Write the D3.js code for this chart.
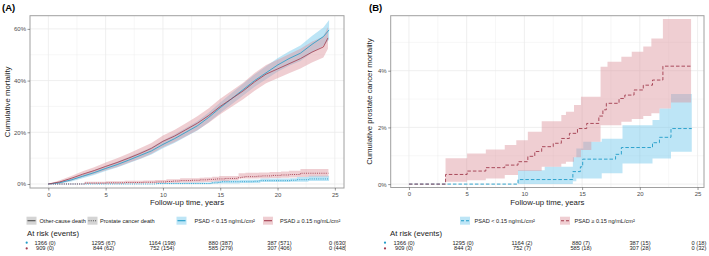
<!DOCTYPE html>
<html><head><meta charset="utf-8">
<script src="https://cdn.jsdelivr.net/npm/d3@7"></script>
<style>
html,body{margin:0;padding:0;background:#fff;}
svg{display:block;font-family:"Liberation Sans",Arial,sans-serif;}
</style></head>
<body>
<script>
// ---------- DATA ----------
const xTicks = [0, 5, 10, 15, 20, 25];
const yTicksA = [0, 20, 40, 60];
const yTicksB = [0, 2, 4];
const groupLabels = ["PSAD < 0.15 ng/mL/cm²", "PSAD ≥ 0.15 ng/mL/cm²"];
const outcomeLabels = ["Other-cause death", "Prostate cancer death"];

// Other-cause death cumulative incidence: [time, estimate, lower, upper] (%)
const ocdLow = [
  [0,0,0,0],[1,0.5,0.2,0.9],[2,1.6,1.0,2.2],[3,3.0,2.2,3.8],[4,4.4,3.5,5.3],[5,6.0,5.0,7.0],
  [6,7.5,6.4,8.6],[7,9.2,8.0,10.4],[8,11.0,9.7,12.3],[9,12.8,11.4,14.2],[10,15.3,13.8,16.8],
  [11,17.5,15.9,19.1],[12,20.0,18.3,21.7],[13,22.5,20.7,24.3],[14,25.8,23.9,27.7],[15,29.5,27.5,31.5],
  [16,33.0,30.8,35.2],[17,36.5,34.2,38.8],[18,40.0,37.6,42.4],[19,43.0,40.5,45.5],[20,46.0,43.4,48.6],
  [21,48.5,45.7,51.3],[22,50.6,47.6,53.6],[23,54.0,50.8,57.2],[24,57.0,53.5,60.5],[24.5,59.6,55.8,63.4]
];
const ocdHigh = [
  [0,0,0,0],[1,0.8,0.3,1.4],[2,2.2,1.3,3.1],[3,3.8,2.7,4.9],[4,5.2,3.9,6.5],[5,6.8,5.3,8.3],
  [6,8.3,6.6,10.0],[7,10.0,8.2,11.8],[8,11.8,9.8,13.8],[9,13.8,11.7,15.9],[10,16.5,14.2,18.8],
  [11,18.5,16.1,20.9],[12,21.0,18.5,23.5],[13,23.5,20.8,26.2],[14,26.5,23.7,29.3],[15,30.0,27.0,33.0],
  [16,33.0,29.9,36.1],[17,36.0,32.8,39.2],[18,39.5,36.1,42.9],[19,42.5,39.0,46.0],[20,44.5,40.9,48.1],
  [21,46.5,42.8,50.2],[22,48.5,44.7,52.3],[23,51.0,47.0,55.0],[24,53.0,48.9,57.1],[24.4,56.5,52.3,60.7]
];

// Prostate cancer death cumulative incidence step curves: [time, estimate] (%)
const pcdLow = [[0,0],[9.45,0.16],[14.2,0.44],[14.85,0.61],[15.05,0.88],[17.9,1.05],[18.4,1.29],
  [21.1,1.46],[21.7,1.65],[22.7,1.96],[24.5,1.96]];
const pcdHigh = [[0,0],[3.17,0.34],[5.04,0.46],[6.66,0.58],[8.3,0.67],[9.45,0.79],[10.3,0.98],
  [10.9,1.15],[11.5,1.32],[12.5,1.44],[13.2,1.61],[13.9,1.79],[14.6,1.96],[15.4,2.14],[16.45,2.4],
  [16.8,2.62],[17.1,2.85],[18.2,3.02],[18.7,3.14],[19.5,3.32],[20.3,3.49],[21.1,3.67],[22.0,4.16],[24.44,4.16]];
// confidence bands: [time, lower, upper] (%)
const pcdLowBand = [[9.45,0,0.49],[11.76,0,0.61],[14.2,0.10,0.95],[14.5,0.20,1.26],[15.1,0.20,1.49],
  [16.7,0.38,1.60],[18.5,0.73,2.08],[21.1,0.90,2.26],[21.7,0.90,2.67],[22.7,1.14,3.18],[24.5,1.14,3.18]];
const pcdHighBand = [[3.17,0.08,0.91],[5.04,0.14,1.08],[6.66,0.20,1.22],[8.3,0.32,1.38],[9.3,0.32,1.55],
  [9.45,0.46,1.55],[10.3,0.46,1.85],[11.5,0.61,2.22],[13.2,0.72,2.44],[13.6,0.79,2.55],[14.3,0.95,2.79],
  [14.9,1.20,3.08],[15.8,1.49,3.08],[16.6,2.08,4.14],[17.2,2.08,4.32],[18.4,2.20,4.49],[19.3,2.30,4.67],
  [20.3,2.40,4.85],[21.0,2.50,5.14],[21.7,2.67,5.14],[22.0,2.67,5.82],[22.7,2.88,5.82],[24.44,2.88,5.82]];

// At-risk tables
const atRiskA_low  = ["1366 (0)","1295 (67)","1164 (198)","880 (387)","387 (571)","0 (630)"];
const atRiskA_high = ["909 (0)","844 (62)","752 (154)","585 (279)","307 (406)","0 (448)"];
const atRiskB_low  = ["1366 (0)","1295 (0)","1164 (2)","880 (7)","387 (15)","0 (18)"];
const atRiskB_high = ["909 (0)","844 (3)","752 (7)","585 (18)","307 (28)","0 (32)"];

// ---------- STYLE ----------
const C = {
  blueLine:"#1f9cc8", redLine:"#a23c4e",
  blueFill:"#6cc6ea", redFill:"#dc939b", fillOp:0.45,
  grid:"#ebebeb", border:"#a0a0a0", axisText:"#4d4d4d"
};

const svg = d3.select("body").append("svg").attr("width",709).attr("height",256);
const defs = svg.append("defs");

function panel(cfg){
  const g = svg.append("g");
  const x = cfg.x, y = cfg.y;
  const [x0,x1] = x.range(), [y0,y1] = y.range();
  // grid
  const minorX = xTicks.slice(0,-1).map(d=>d+2.5);
  g.append("g").selectAll("line").data(cfg.minorY).join("line")
    .attr("x1",x0).attr("x2",x1).attr("y1",d=>y(d)).attr("y2",d=>y(d))
    .attr("stroke",C.grid).attr("stroke-width",0.4);
  g.append("g").selectAll("line").data(minorX).join("line")
    .attr("y1",y0).attr("y2",y1).attr("x1",d=>x(d)).attr("x2",d=>x(d))
    .attr("stroke",C.grid).attr("stroke-width",0.4);
  g.append("g").selectAll("line").data(cfg.yTicks).join("line")
    .attr("x1",x0).attr("x2",x1).attr("y1",d=>y(d)).attr("y2",d=>y(d))
    .attr("stroke",C.grid).attr("stroke-width",0.8);
  g.append("g").selectAll("line").data(xTicks).join("line")
    .attr("y1",y0).attr("y2",y1).attr("x1",d=>x(d)).attr("x2",d=>x(d))
    .attr("stroke",C.grid).attr("stroke-width",0.8);

  const clipId = "clip"+cfg.id;
  defs.append("clipPath").attr("id",clipId).append("rect")
    .attr("x",x0).attr("y",y1).attr("width",x1-x0).attr("height",y0-y1);
  const plot = g.append("g").attr("clip-path",`url(#${clipId})`);
  cfg.draw(plot, x, y);

  // border
  g.append("rect").attr("x",x0).attr("y",y1).attr("width",x1-x0).attr("height",y0-y1)
    .attr("fill","none").attr("stroke",C.border).attr("stroke-width",1);

  // axes
  const ax = g.append("g").attr("transform",`translate(0,${y0})`)
    .call(d3.axisBottom(x).tickValues(xTicks).tickSize(2.5).tickPadding(2).tickFormat(d3.format("d")));
  const ay = g.append("g").attr("transform",`translate(${x0},0)`)
    .call(d3.axisLeft(y).tickValues(cfg.yTicks).tickSize(2.5).tickPadding(1.5).tickFormat(d=>d+"%"));
  [ax,ay].forEach(a=>{
    a.select(".domain").remove();
    a.selectAll(".tick line").attr("stroke","#333").attr("stroke-width",0.5);
    a.selectAll(".tick text").attr("fill",C.axisText).style("font-size","6px")
      .style("font-family","'Liberation Sans',Arial,sans-serif");
  });

  // titles
  g.append("text").attr("x",(x0+x1)/2).attr("y",205).attr("text-anchor","middle")
    .style("font-size","7.8px").attr("fill","#1a1a1a").text("Follow-up time, years");
  g.append("text").attr("transform",`translate(${cfg.yTitleX},${(y0+y1)/2}) rotate(-90)`)
    .attr("text-anchor","middle").style("font-size","7.8px").attr("fill","#1a1a1a").text(cfg.yTitle);
  g.append("text").attr("x",cfg.tagX).attr("y",11).style("font-size","9.5px").style("font-weight","bold")
    .attr("fill","#000").text(cfg.tag);

  // at risk table
  g.append("text").attr("x",cfg.atRiskX).attr("y",235.8).style("font-size","7.8px").attr("fill","#1a1a1a").text("At risk (events)");
  const tx = cfg.tableX;
  const tclip = "tclip"+cfg.id;
  defs.append("clipPath").attr("id",tclip).append("rect").attr("x",cfg.tableClip[0]).attr("y",236)
    .attr("width",cfg.tableClip[1]-cfg.tableClip[0]).attr("height",20);
  const tab = g.append("g").attr("clip-path",`url(#${tclip})`);
  [[cfg.rows[0],242.7,C.blueLine],[cfg.rows[1],248.4,C.redLine]].forEach(([row,yy,col])=>{
    tab.append("g").selectAll("text").data(row).join("text")
      .attr("x",(d,i)=>tx(xTicks[i])).attr("y",yy+2.0).attr("text-anchor","middle")
      .style("font-size","5.7px").attr("fill","#1a1a1a").text(d=>d);
    g.append("circle").attr("cx",cfg.dotX).attr("cy",yy).attr("r",1.1).attr("fill",col);
  });
}

function bandArea(x,y,curve){
  return d3.area().x(d=>x(d[0])).y0(d=>y(d[1])).y1(d=>y(d[2])).curve(curve);
}

// Panel A
panel({
  id:"A",
  x: d3.scaleLinear([-1.6,25.8],[30,344]),
  y: d3.scaleLinear([-1.55,65.1],[188,15.7]),
  yTicks: yTicksA, minorY:[10,30,50],
  yTitle:"Cumulative mortality", yTitleX:10, tag:"(A)", tagX:2,
  atRiskX:27, dotX:26.7, tableX: d3.scaleLinear([0,25],[45,338]), tableClip:[0,346],
  rows:[atRiskA_low, atRiskA_high],
  draw:(p,x,y)=>{
    const ocdBand = d3.area().x(d=>x(d[0])).y0(d=>y(d[2])).y1(d=>y(d[3]));
    const ocdLine = d3.line().x(d=>x(d[0])).y(d=>y(d[1]));
    const bandS = bandArea(x,y,d3.curveStepAfter);
    const lineS = d3.line().x(d=>x(d[0])).y(d=>y(d[1])).curve(d3.curveStepAfter);
    p.append("path").attr("d",bandS(pcdLowBand)).attr("fill",C.blueFill).attr("fill-opacity",C.fillOp);
    p.append("path").attr("d",bandS(pcdHighBand)).attr("fill",C.redFill).attr("fill-opacity",C.fillOp);
    p.append("path").attr("d",ocdBand(ocdLow)).attr("fill",C.blueFill).attr("fill-opacity",C.fillOp);
    p.append("path").attr("d",ocdBand(ocdHigh)).attr("fill",C.redFill).attr("fill-opacity",C.fillOp);
    p.append("path").attr("d",lineS(pcdLow)).attr("fill","none").attr("stroke",C.blueLine).attr("stroke-width",0.9).attr("stroke-dasharray","1,1.2");
    p.append("path").attr("d",lineS(pcdHigh)).attr("fill","none").attr("stroke",C.redLine).attr("stroke-width",0.9).attr("stroke-dasharray","1,1.2");
    p.append("path").attr("d",ocdLine(ocdLow)).attr("fill","none").attr("stroke",C.blueLine).attr("stroke-width",0.8);
    p.append("path").attr("d",ocdLine(ocdHigh)).attr("fill","none").attr("stroke",C.redLine).attr("stroke-width",0.8);
  }
});

// Panel B
panel({
  id:"B",
  x: d3.scaleLinear([-1.58,25.56],[390.7,704]),
  y: d3.scaleLinear([-0.12,5.94],[187.5,15.7]),
  yTicks: yTicksB, minorY:[1,3,5],
  yTitle:"Cumulative prostate cancer mortality", yTitleX:372, tag:"(B)", tagX:369,
  atRiskX:390, dotX:385, tableX: d3.scaleLinear([0,25],[404,699]), tableClip:[380,709],
  rows:[atRiskB_low, atRiskB_high],
  draw:(p,x,y)=>{
    const bandS = bandArea(x,y,d3.curveStepAfter);
    const lineS = d3.line().x(d=>x(d[0])).y(d=>y(d[1])).curve(d3.curveStepAfter);
    p.append("path").attr("d",bandS(pcdLowBand)).attr("fill",C.blueFill).attr("fill-opacity",C.fillOp);
    p.append("path").attr("d",bandS(pcdHighBand)).attr("fill",C.redFill).attr("fill-opacity",C.fillOp);
    p.append("path").attr("d",lineS(pcdLow)).attr("fill","none").attr("stroke",C.blueLine).attr("stroke-width",0.9).attr("stroke-dasharray","3.5,2");
    p.append("path").attr("d",lineS(pcdHigh)).attr("fill","none").attr("stroke",C.redLine).attr("stroke-width",0.9).attr("stroke-dasharray","3.5,2");
  }
});

// Legends
function key(x, yc, fill, fillOp, stroke, dash){
  svg.append("rect").attr("x",x).attr("y",yc-4).attr("width",10).attr("height",8).attr("fill",fill).attr("fill-opacity",fillOp);
  svg.append("line").attr("x1",x+1).attr("x2",x+9).attr("y1",yc).attr("y2",yc)
    .attr("stroke",stroke).attr("stroke-width",1.1).attr("stroke-dasharray",dash||null);
}
function ltext(x, yc, t){
  svg.append("text").attr("x",x).attr("y",yc+2).style("font-size","5.6px").attr("fill","#1a1a1a").text(t);
}
const ly = 220.7;
key(26.5, ly, "#d4d4d4", 1, "#4d4d4d");           ltext(39.5, ly, outcomeLabels[0]);
key(87.5, ly, "#d4d4d4", 1, "#4d4d4d", "1,1.2");  ltext(100, ly, outcomeLabels[1]);
key(176.5, ly, C.blueFill, C.fillOp, C.blueLine);  ltext(194.5, ly, groupLabels[0]);
key(263, ly, C.redFill, C.fillOp, C.redLine);      ltext(280, ly, groupLabels[1]);

key(460, ly, C.blueFill, C.fillOp, C.blueLine, "3,2"); ltext(474.5, ly, groupLabels[0]);
key(560, ly, C.redFill, C.fillOp, C.redLine, "3,2");   ltext(574.5, ly, groupLabels[1]);
</script>
</body></html>
